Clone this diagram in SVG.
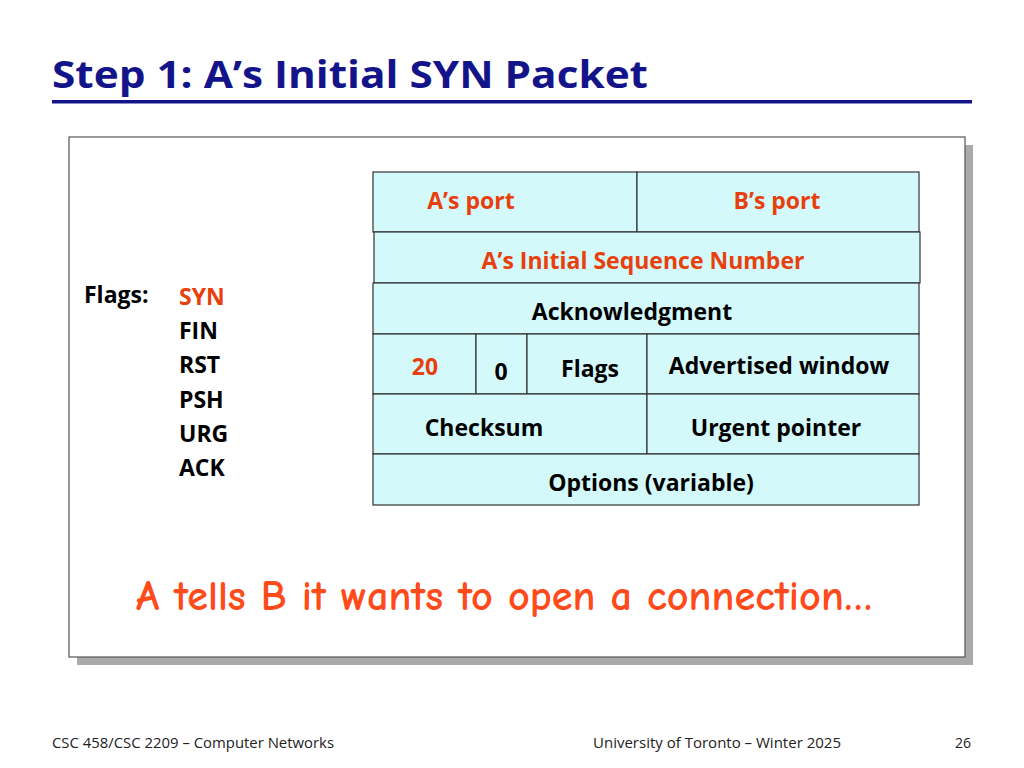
<svg xmlns="http://www.w3.org/2000/svg" width="1024" height="768" viewBox="0 0 1024 768">
<style>
.t{font-family:"Open Sans","Noto Sans","Liberation Sans",sans-serif;font-weight:bold;font-size:23px}
.o{fill:#e8400c}
.k{fill:#000}
.c{fill:#d4f9fb;stroke:#333;stroke-width:1.2}
.f{font-family:"Open Sans","Liberation Sans",sans-serif;font-size:14px;fill:#222}
</style>
<rect width="1024" height="768" fill="#fff"/>
<text x="52" y="88" font-family="'Open Sans','Noto Sans',sans-serif" font-weight="bold" font-size="38" fill="#14148a" textLength="596" lengthAdjust="spacingAndGlyphs">Step 1: A’s Initial SYN Packet</text>
<rect x="52" y="100" width="920" height="3.5" fill="#14148a"/>
<rect x="77" y="145" width="896" height="520" fill="#aaa"/>
<rect x="69" y="137" width="896" height="520" fill="#fff" stroke="#555" stroke-width="1.2"/>
<g id="packet">
<g id="row1"><rect class="c" x="373" y="172" width="264" height="60"/><rect class="c" x="637" y="172" width="282" height="60"/>
<text class="t o" x="471" y="209" text-anchor="middle">A’s port</text><text class="t o" x="777" y="209" text-anchor="middle">B’s port</text></g>
<g id="row2"><rect class="c" x="374" y="232" width="546" height="51"/><text class="t o" x="643" y="269" text-anchor="middle">A’s Initial Sequence Number</text></g>
<g id="row3"><rect class="c" x="373" y="283" width="546" height="51"/><text class="t k" x="632" y="320" text-anchor="middle">Acknowledgment</text></g>
<g id="row4"><rect class="c" x="373" y="334" width="103" height="60"/><rect class="c" x="476" y="334" width="51" height="60"/><rect class="c" x="527" y="334" width="120" height="60"/><rect class="c" x="647" y="334" width="272" height="60"/>
<text class="t o" x="425" y="375" text-anchor="middle">20</text><text class="t k" x="501" y="380" text-anchor="middle">0</text><text class="t k" x="590" y="377" text-anchor="middle">Flags</text><text class="t k" x="779" y="374" text-anchor="middle">Advertised window</text></g>
<g id="row5"><rect class="c" x="373" y="394" width="274" height="60"/><rect class="c" x="647" y="394" width="272" height="60"/>
<text class="t k" x="484" y="436" text-anchor="middle">Checksum</text><text class="t k" x="776" y="436" text-anchor="middle">Urgent pointer</text></g>
<g id="row6"><rect class="c" x="373" y="454" width="546" height="51"/><text class="t k" x="651" y="491" text-anchor="middle">Options (variable)</text></g>
</g>
<g id="flags">
<text class="t k" x="84" y="303">Flags:</text>
<text class="t o" x="179" y="305">SYN</text>
<text class="t k" x="179" y="339">FIN</text>
<text class="t k" x="179" y="373">RST</text>
<text class="t k" x="179" y="408">PSH</text>
<text class="t k" x="179" y="442">URG</text>
<text class="t k" x="179" y="476">ACK</text>
</g>
<text x="136" y="610" font-family="'Comic Neue','Lato','Noto Sans',sans-serif" font-weight="bold" font-size="42" fill="#ff4a1a" textLength="736" lengthAdjust="spacingAndGlyphs">A tells B it wants to open a connection…</text>
<text class="f" x="52" y="748" textLength="282" lengthAdjust="spacingAndGlyphs">CSC 458/CSC 2209 – Computer Networks</text>
<text class="f" x="593" y="748" textLength="248" lengthAdjust="spacingAndGlyphs">University of Toronto – Winter 2025</text>
<text class="f" x="955" y="748">26</text>
</svg>
